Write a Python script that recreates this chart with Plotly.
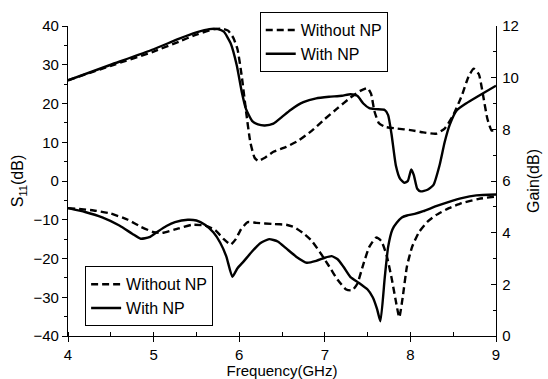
import plotly.graph_objects as go

# ---------------- data ----------------
# Gain (right axis, dB)
freq_gain_with = [4.0, 4.5, 5.0, 5.3, 5.5, 5.65, 5.75, 5.82, 5.9, 5.97, 6.03, 6.08, 6.15, 6.22, 6.3,
                  6.4, 6.5, 6.6, 6.75, 6.9, 7.05, 7.2, 7.3, 7.38, 7.45, 7.52, 7.6, 7.7, 7.74, 7.78,
                  7.83, 7.88, 7.93, 7.97, 8.01, 8.04, 8.08, 8.12, 8.2, 8.27, 8.34, 8.4, 8.46, 8.54,
                  8.65, 8.8, 9.0]
gain_with = [9.90, 10.50, 11.10, 11.51, 11.75, 11.88, 11.88, 11.78, 11.33, 10.50, 9.45, 8.78, 8.33,
             8.19, 8.15, 8.22, 8.48, 8.75, 9.05, 9.20, 9.26, 9.30, 9.36, 9.30, 9.00, 8.82, 8.78,
             8.75, 8.55, 7.80, 6.60, 6.08, 5.93, 6.00, 6.45, 6.23, 5.70, 5.60, 5.66, 5.85, 6.60,
             7.50, 8.18, 8.73, 9.00, 9.30, 9.69]

freq_gain_without = [4.0, 4.5, 5.0, 5.3, 5.5, 5.7, 5.8, 5.87, 5.93, 5.98, 6.03, 6.08, 6.13, 6.18,
                     6.22, 6.3, 6.4, 6.55, 6.7, 6.85, 7.0, 7.15, 7.3, 7.42, 7.5, 7.54, 7.58, 7.63,
                     7.7, 7.85, 8.0, 8.15, 8.3, 8.4, 8.5, 8.6, 8.68, 8.74, 8.8, 8.85, 8.9, 8.95, 9.0]
gain_without = [9.90, 10.46, 11.01, 11.40, 11.67, 11.87, 11.90, 11.82, 11.55, 11.10, 10.05, 8.70,
                7.50, 6.90, 6.78, 6.90, 7.13, 7.32, 7.58, 7.95, 8.40, 8.82, 9.23, 9.50, 9.60, 9.38,
                8.70, 8.25, 8.10, 8.03, 7.97, 7.88, 7.83, 8.03, 8.55, 9.30, 10.05, 10.35, 10.13,
                9.30, 8.40, 7.95, 8.03]

# S11 (left axis, dB)
freq_s11_without = [4.0, 4.3, 4.5, 4.7, 4.85, 5.0, 5.1, 5.25, 5.45, 5.6, 5.72, 5.82, 5.9, 5.96,
                    6.02, 6.1, 6.2, 6.4, 6.55, 6.65, 6.75, 6.85, 6.95, 7.05, 7.15, 7.25, 7.32,
                    7.38, 7.45, 7.52, 7.6, 7.66, 7.72, 7.78, 7.83, 7.87, 7.91, 7.96, 8.02, 8.1,
                    8.2, 8.3, 8.45, 8.6, 8.8, 9.0]
s11_without = [-7.0, -7.6, -8.4, -10.0, -11.8, -13.2, -13.4, -12.5, -11.3, -11.5, -12.7, -15.0,
               -16.4, -15.0, -12.5, -10.6, -10.8, -11.1, -11.3, -12.0, -13.5, -15.5, -18.6, -22.0,
               -25.5, -28.0, -28.2, -26.5, -21.5, -17.0, -14.6, -15.5, -19.0, -25.0, -31.0, -35.2,
               -30.0, -22.0, -17.0, -13.2, -10.5, -8.8, -7.0, -5.7, -4.6, -4.0]

freq_s11_with = [4.0, 4.2, 4.4, 4.6, 4.75, 4.85, 4.95, 5.05, 5.15, 5.25, 5.4, 5.5, 5.6, 5.7, 5.78,
                 5.85, 5.92, 5.98, 6.05, 6.15, 6.25, 6.35, 6.45, 6.55, 6.67, 6.79, 6.9, 7.0, 7.08,
                 7.15, 7.22, 7.3, 7.4, 7.5, 7.56, 7.61, 7.65, 7.7, 7.74, 7.79, 7.84, 7.9, 7.96,
                 8.05, 8.15, 8.3, 8.46, 8.6, 8.77, 9.0]
s11_with = [-7.0, -8.0, -9.4, -11.5, -13.6, -14.9, -14.5, -13.0, -11.6, -10.6, -10.0, -10.2, -11.3,
            -13.3, -16.0, -19.5, -24.7, -22.5, -20.8, -18.2, -16.0, -15.0, -15.6, -17.4, -19.6,
            -21.1, -20.6, -19.8, -19.4, -20.2, -22.2, -24.8, -26.3, -28.0, -30.0, -33.0, -36.2,
            -25.0, -17.0, -12.5, -10.8, -9.4, -8.9, -8.5, -7.8, -6.5, -5.3, -4.4, -3.7, -3.5]

series_names = ["Without NP", "With NP"]
x_ticks = [4, 5, 6, 7, 8, 9]
# --------------------------------------

FONT = "Liberation Sans, Arial, sans-serif"
DASH = "7px,4px"
LW = 2.4

fig = go.Figure()
fig.add_trace(go.Scatter(x=freq_gain_without, y=gain_without, name=series_names[0], yaxis="y2",
                         mode="lines", line=dict(color="black", width=LW, dash=DASH, shape="spline", smoothing=0.5),
                         legend="legend"))
fig.add_trace(go.Scatter(x=freq_gain_with, y=gain_with, name=series_names[1], yaxis="y2",
                         mode="lines", line=dict(color="black", width=LW, shape="spline", smoothing=0.5),
                         legend="legend"))
fig.add_trace(go.Scatter(x=freq_s11_without, y=s11_without, name=series_names[0],
                         mode="lines", line=dict(color="black", width=LW, dash=DASH, shape="spline", smoothing=0.5),
                         legend="legend2"))
fig.add_trace(go.Scatter(x=freq_s11_with, y=s11_with, name=series_names[1],
                         mode="lines", line=dict(color="black", width=LW, shape="spline", smoothing=0.5),
                         legend="legend2"))

legend_style = dict(bordercolor="black", borderwidth=1, bgcolor="white",
                    font=dict(family=FONT, size=16, color="black"),
                    xanchor="left", yanchor="middle", tracegroupgap=0)

fig.update_layout(
    width=548, height=379,
    margin=dict(l=68, r=52, t=19, b=43),
    paper_bgcolor="white", plot_bgcolor="white",
    font=dict(family=FONT, size=15, color="black"),
    legend=dict(x=0.448, y=0.948, **legend_style),
    legend2=dict(x=0.04, y=0.128, **legend_style),
    xaxis=dict(range=[4, 9], tickvals=x_ticks, showgrid=False, zeroline=False, automargin=False,
               showline=True, linecolor="black", linewidth=1.3,
               ticks="outside", ticklen=5, tickwidth=1.3, tickcolor="black",
               minor=dict(dtick=0.5, ticks="inside", ticklen=4, tickwidth=1.3, tickcolor="black"),
               title=dict(text="Frequency(GHz)", standoff=4, font=dict(size=15))),
    yaxis=dict(range=[-40, 40], dtick=10, showgrid=False, zeroline=False, automargin=False,
               showline=True, linecolor="black", linewidth=1.3,
               ticks="outside", ticklen=5, tickwidth=1.3, tickcolor="black",
               minor=dict(dtick=5, ticks="outside", ticklen=3, tickwidth=1.3, tickcolor="black"),
               title=dict(text="S<sub>11</sub>(dB)", standoff=5, font=dict(size=16))),
    yaxis2=dict(range=[0, 12], dtick=2, overlaying="y", side="right", showgrid=False, zeroline=False,
                automargin=False,
                showline=True, linecolor="black", linewidth=1.3,
                ticks="inside", ticklen=5, tickwidth=1.3, tickcolor="black", ticklabelstandoff=2,
                minor=dict(dtick=1, ticks="inside", ticklen=3, tickwidth=1.3, tickcolor="black"),
                title=dict(text="Gain(dB)", standoff=9, font=dict(size=16))),
)

fig.write_html("out.html")
